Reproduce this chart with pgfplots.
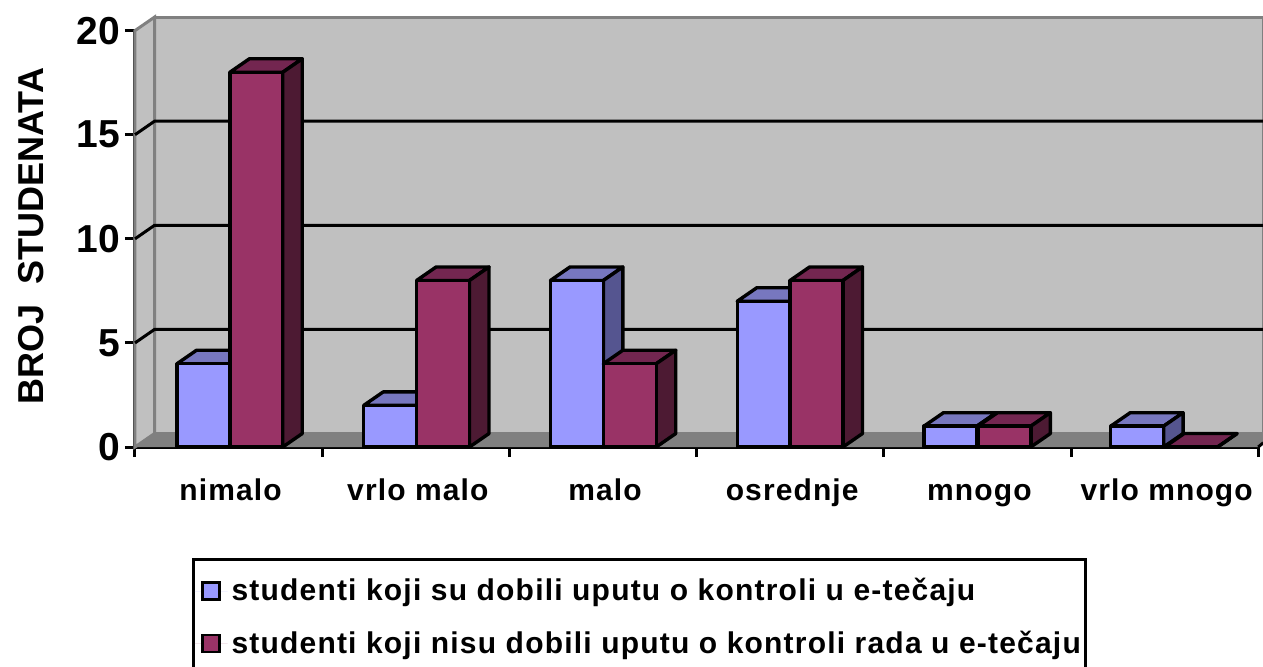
\documentclass[border=0pt]{standalone}
\usepackage{fontspec}
\setmainfont{Liberation Sans}
\newfontfamily\spaced[LetterSpace=3.7]{Liberation Sans}
\newfontfamily\spacedleg[LetterSpace=4]{Liberation Sans}
\usepackage{pgfplots}
\pgfplotsset{compat=1.18}

\definecolor{bluef}{HTML}{9999FF}
\definecolor{bluet}{HTML}{7777BF}
\definecolor{blues}{HTML}{555590}
\definecolor{plumf}{HTML}{993366}
\definecolor{plumt}{HTML}{732650}
\definecolor{plums}{HTML}{4D1A33}
\definecolor{wall}{HTML}{C0C0C0}
\definecolor{floorc}{HTML}{808080}

% depth of the 3d look, in axis units
\def\dx{0.1042}
\def\dy{0.6475}
\def\bw{0.2825}
\def\xr{6.0267}

% left edge, value, front, top, side colour
\newcommand{\threedbar}[5]{%
  \pgfmathsetmacro\xa{#1}%
  \pgfmathsetmacro\xb{#1+\bw}%
  \pgfmathsetmacro\xc{#1+\dx}%
  \pgfmathsetmacro\xd{#1+\bw+\dx}%
  \pgfmathsetmacro\yt{#2+\dy}%
  \addplot[forget plot,draw=black,line width=1.7pt,line join=round,fill=#4]
    coordinates {(\xa,#2) (\xb,#2) (\xd,\yt) (\xc,\yt)} --cycle;
  \addplot[forget plot,draw=black,line width=1.7pt,line join=round,fill=#5]
    coordinates {(\xb,0) (\xd,\dy) (\xd,\yt) (\xb,#2)} --cycle;
  \addplot[forget plot,draw=black,line width=1.7pt,line join=round,fill=#3]
    coordinates {(\xa,0) (\xb,0) (\xb,#2) (\xa,#2)} --cycle;
}
\newcommand{\gridl}[1]{%
  \pgfmathsetmacro\yt{#1+\dy}%
  \addplot[forget plot,black,line width=1.5pt] coordinates {(0,#1) (\dx,\yt) (\xr,\yt)};
}

\begin{document}
\begin{tikzpicture}
\useasboundingbox (-67.5pt,-109.5pt) rectangle (564pt,223.5pt);
\begin{axis}[
    x=93.6pt, y=10.41pt,
    xmin=0, xmax=6, ymin=0, ymax=20,
    clip=false,
    axis x line*=bottom,
    axis y line*=left,
    axis line style={line width=1.5pt},
    tick style={black,line width=1.5pt},
    tick align=outside,
    xtick={0.5,1.5,2.5,3.5,4.5,5.5},
    xticklabels={nimalo,vrlo malo,malo,osrednje,mnogo,vrlo mnogo},
    minor xtick={0,1,2,3,4,5,6},
    major x tick style={draw=none},
    minor tick length=5pt,
    ytick={0,5,10,15,20},
    major tick length=5pt,
    x tick label style={font=\spaced\bfseries\fontsize{15}{17}\selectfont,
        text height=11pt, text depth=3pt, yshift=-7pt, xshift=1pt},
    y tick label style={font=\bfseries\fontsize{19.5}{22}\selectfont, xshift=1pt},
    /pgf/number format/assume math mode=true,
    ylabel={BROJ\ \ STUDENATA},
    ylabel style={at={(axis description cs:-0.0925,0.506)},anchor=center,
        font=\bfseries\fontsize{18}{20}\selectfont},
    legend image code/.code={
        \path[draw=none] (-3pt,0pt) -- (13.5pt,0pt);
        \draw[#1,line width=1.2pt] (1pt,-4.25pt) rectangle (9.5pt,4.25pt);},
    legend cell align=left,
    legend style={
        at={(0.05075,-0.2662)}, anchor=north west,
        draw=black, line width=1.5pt,
        font=\spacedleg\bfseries\fontsize{15}{17}\selectfont,
        inner xsep=0.5pt, inner ysep=7.5pt,
        row sep=9.5pt,
    },
]
% walls and floor
\addplot[forget plot,draw=floorc,line width=1.5pt,fill=wall]
    coordinates {(\dx,\dy) (\xr,\dy) (\xr,20.6475) (\dx,20.6475)} --cycle;
\addplot[forget plot,draw=floorc,line width=1.5pt,fill=wall]
    coordinates {(0,0) (\dx,\dy) (\dx,20.6475) (0,20)} --cycle;
\addplot[forget plot,draw=none,fill=floorc]
    coordinates {(0,0) (\dx,\dy) (\xr,\dy) (\xr,0.2) (6,0)} --cycle;
\addplot[forget plot,black,line width=1.5pt] coordinates {(6,0) (\xr,0.2)};
\gridl{5}
\gridl{10}
\gridl{15}
% bars, series one then series two in each category
\threedbar{0.2244}{4}{bluef}{bluet}{blues}
\threedbar{0.5069}{18}{plumf}{plumt}{plums}
\threedbar{1.2219}{2}{bluef}{bluet}{blues}
\threedbar{1.5044}{8}{plumf}{plumt}{plums}
\threedbar{2.2194}{8}{bluef}{bluet}{blues}
\threedbar{2.5019}{4}{plumf}{plumt}{plums}
\threedbar{3.2169}{7}{bluef}{bluet}{blues}
\threedbar{3.4994}{8}{plumf}{plumt}{plums}
\threedbar{4.2144}{1}{bluef}{bluet}{blues}
\threedbar{4.5029}{1}{plumf}{plumt}{plums}
\threedbar{5.2119}{1}{bluef}{bluet}{blues}
\threedbar{5.5004}{0}{plumf}{plumt}{plums}
\addlegendimage{fill=bluef,draw=black}
\addlegendentry{studenti koji su dobili uputu o kontroli u e-tečaju}
\addlegendimage{fill=plumf,draw=black}
\addlegendentry{studenti koji nisu dobili uputu o kontroli rada u e-tečaju}
\end{axis}
\end{tikzpicture}
\end{document}
